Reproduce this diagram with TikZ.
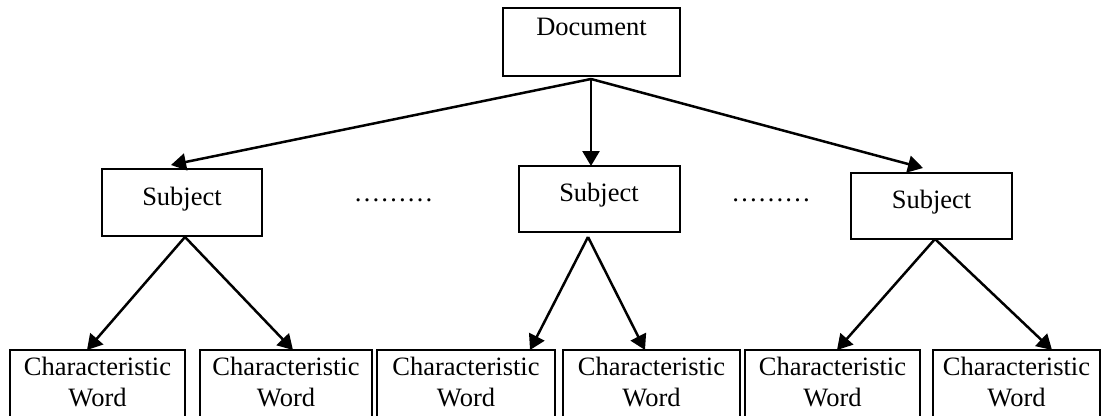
\documentclass[tikz,border=0pt]{standalone}
\usepackage{fontspec}
\setmainfont{Liberation Serif}
\usetikzlibrary{arrows.meta,calc}
\tikzset{
  box/.style={draw, line width=2.7pt, inner sep=0pt, outer sep=0pt, anchor=north west},
  txt/.style={inner sep=0pt, font=\fontsize{26.5}{31}\selectfont, align=center},
  arr/.style={line width=2.5pt, -{Triangle[length=15pt,width=17pt]}},
}
\begin{document}
\begin{tikzpicture}[x=1pt,y=-1pt]
\fill[white] (0,0) rectangle (1103,415);
\clip (0,0) rectangle (1103,415);
% boxes
\node[box, minimum width=177pt, minimum height=68pt] (doc) at (503,8) {};
\node[box, minimum width=160pt, minimum height=67pt] (s1) at (102,169) {};
\node[box, minimum width=161pt, minimum height=66pt] (s2) at (519,166) {};
\node[box, minimum width=161pt, minimum height=66pt] (s3) at (851,173) {};
\node[box, minimum width=175pt, minimum height=90pt] (c1) at (10,350) {};
\node[box, minimum width=172pt, minimum height=90pt] (c2) at (200,350) {};
\node[box, minimum width=178pt, minimum height=90pt] (c3) at (377,350) {};
\node[box, minimum width=177pt, minimum height=90pt] (c4) at (563,350) {};
\node[box, minimum width=175pt, minimum height=90pt] (c5) at (745,350) {};
\node[box, minimum width=167pt, minimum height=90pt] (c6) at (933,350) {};
% texts
\node[txt, anchor=base] (doct) at (591.5,35) {Document};
\node[txt, anchor=base] (s1t) at (182,205) {Subject};
\node[txt, anchor=base] (s2t) at (599,201) {Subject};
\node[txt, anchor=base] (s3t) at (931.5,208) {Subject};
\node[txt, anchor=base] (dots1) at (393.5,201) {………};
\node[txt, anchor=base] (dots2) at (771,201) {………};
\foreach \n in {c1,c2,c3,c4,c5,c6}{
  \node[txt, anchor=north] (\n t) at ($(\n.north)+(0,7)$) {Characteristic\\Word};
}
% connector points
\coordinate (dapex) at ($(doc.south)+(-0.5,3)$);
\coordinate (s1apex) at ($(s1.south)+(3,1)$);
\coordinate (s2apex) at ($(s2.south)+(-11.5,5)$);
\coordinate (s3apex) at ($(s3.south)+(3.5,0)$);
% arrows
\draw[arr] (dapex) -- ($(s1.north)+(-11,-4)$);
\draw[arr] (dapex) -- ($(s2.north)+(-8.5,0)$);
\draw[arr] (dapex) -- ($(s3.north)+(-8.5,-5)$);
\draw[arr] (s1apex) -- ($(c1.north)+(-10.5,0)$);
\draw[arr] (s1apex) -- ($(c2.north)+(7,0)$);
\draw[arr] (s2apex) -- ($(c3.north)+(64,0)$);
\draw[arr] (s2apex) -- ($(c4.north)+(-6.5,0)$);
\draw[arr] (s3apex) -- ($(c5.north)+(4.5,0)$);
\draw[arr] (s3apex) -- ($(c6.north)+(35.5,0)$);
\end{tikzpicture}
\end{document}
